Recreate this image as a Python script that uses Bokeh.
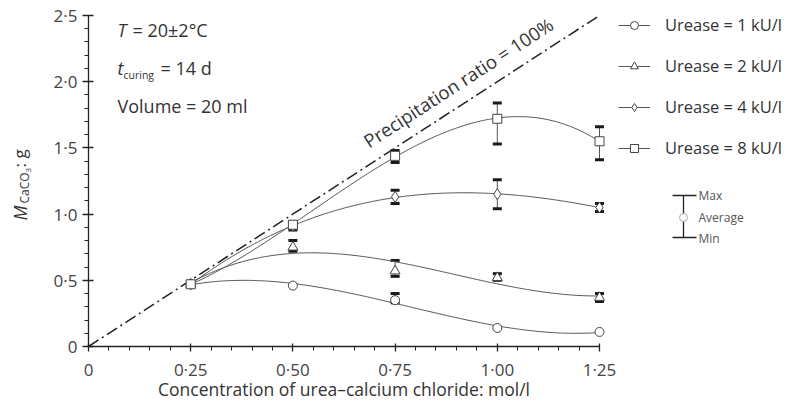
import math
import numpy as np
from bokeh.plotting import figure
from bokeh.models import (ColumnDataSource, Whisker, TeeHead, Label, Legend, LegendItem,
                          FixedTicker, Range1d)
from bokeh.embed import file_html
from bokeh.resources import INLINE

# ---------------- data ----------------
conc = [0.25, 0.50, 0.75, 1.00, 1.25]
series_labels = ["Urease = 1 kU/l", "Urease = 2 kU/l", "Urease = 4 kU/l", "Urease = 8 kU/l"]
series_markers = ["circle", "triangle", "diamond", "square"]
nan = float("nan")

avg_1 = [0.47, 0.46, 0.35, 0.14, 0.11]
max_1 = [nan, nan, 0.40, nan, nan]
min_1 = [nan, nan, 0.33, nan, nan]

avg_2 = [0.47, 0.75, 0.57, 0.52, 0.37]
max_2 = [nan, 0.80, 0.65, 0.55, 0.40]
min_2 = [nan, 0.72, 0.53, 0.50, 0.34]

avg_4 = [0.47, 0.91, 1.13, 1.15, 1.05]
max_4 = [nan, 0.93, 1.18, 1.26, 1.08]
min_4 = [nan, 0.88, 1.08, 1.04, 1.02]

avg_8 = [0.47, 0.92, 1.44, 1.72, 1.55]
max_8 = [nan, 0.94, 1.48, 1.84, 1.66]
min_8 = [nan, 0.89, 1.39, 1.53, 1.41]

# 100 % precipitation: 20 ml of solution, CaCO3 molar mass 100 g/mol
volume_l = 0.020
molar_mass = 100.0
ratio_conc = [0.0, 1.25]

x_ticks = [0, 0.25, 0.5, 0.75, 1.0, 1.25]
x_tick_labels = ["0", "0·25", "0·50", "0·75", "1·00", "1·25"]
y_ticks = [0, 0.5, 1.0, 1.5, 2.0, 2.5]
y_tick_labels = ["0", "0·5", "1·0", "1·5", "2·0", "2·5"]

# ---------------- layout ----------------
W, H = 793, 412
X0, Y0 = 88, 346            # page pixel of the data origin
SX = (599 - X0) / 1.25      # px per x unit
SY = (Y0 - 15) / 2.5        # px per y unit
FONT = "Open Sans"
TXT = "#333333"
FIX = 6                     # baseline correction (px)

def sxp(px):                # page x -> frame screen x
    return px

def syp(py):                # page y -> frame screen y (from bottom)
    return H - py

def dxp(px):                # page x -> data x
    return (px - X0) / SX

def dyp(py):                # page y -> data y
    return (Y0 - py) / SY

p = figure(width=W, height=H, output_backend="svg", toolbar_location=None,
           x_range=Range1d(-X0 / SX, (W - X0) / SX), y_range=Range1d(-(H - Y0) / SY, Y0 / SY),
           min_border=0)
p.outline_line_color = None
p.xgrid.visible = False
p.ygrid.visible = False
p.background_fill_color = "white"
p.border_fill_color = "white"

# axes (kept in their side panels, drawn at the data origin)
for ax in (p.xaxis[0], p.yaxis[0]):
    ax.fixed_location = 0
    ax.axis_line_color = "#222222"
    ax.axis_line_width = 1.3
    ax.major_tick_line_color = "#222222"
    ax.minor_tick_line_color = "#222222"
    ax.major_tick_line_width = 1.3
    ax.major_label_text_font = FONT
    ax.major_label_text_font_size = "17px"
    ax.major_label_text_color = "#444444"
    ax.minor_tick_in = 0
    ax.minor_tick_out = 4

p.xaxis.ticker = FixedTicker(ticks=x_ticks, minor_ticks=[round(0.05 * i, 2) for i in range(26)])
p.xaxis.major_label_overrides = dict(zip(x_ticks, x_tick_labels))
p.xaxis.bounds = (0, 1.25)
p.xaxis.major_tick_in = 3
p.xaxis.major_tick_out = 5
p.xaxis.major_label_standoff = 6

p.yaxis.ticker = FixedTicker(ticks=y_ticks, minor_ticks=[round(0.1 * i, 1) for i in range(26)])
p.yaxis.major_label_overrides = dict(zip(y_ticks, y_tick_labels))
p.yaxis.bounds = (0, 2.5)
p.yaxis.major_tick_in = 5
p.yaxis.major_tick_out = 6
p.yaxis.major_label_standoff = 5

# precipitation ratio line
ratio_mass = [c * volume_l * molar_mass for c in ratio_conc]
p.line(ratio_conc, ratio_mass, line_color="#222222", line_width=1.5, line_dash="12 4 2 4")

# series
xs_fine = np.linspace(conc[0], conc[-1], 200)
legend_items = []
all_series = [(avg_1, max_1, min_1), (avg_2, max_2, min_2), (avg_4, max_4, min_4), (avg_8, max_8, min_8)]
marker_sizes = {"circle": 9, "triangle": 10, "diamond": 11, "square": 9}
for (avg, mx, mn), label, marker in zip(all_series, series_labels, series_markers):
    coef = np.polyfit(conc, avg, 3)
    lr = p.line(xs_fine, np.polyval(coef, xs_fine), line_color="#555555", line_width=1)
    idx = [i for i in range(len(conc)) if not math.isnan(mx[i])]
    src = ColumnDataSource(dict(x=[conc[i] for i in idx], hi=[mx[i] for i in idx], lo=[mn[i] for i in idx]))
    wk = Whisker(source=src, base="x", upper="hi", lower="lo", dimension="height",
                 line_color="#555555", line_width=1,
                 upper_head=TeeHead(size=9, line_width=3, line_color="#1a1a1a"),
                 lower_head=TeeHead(size=9, line_width=3, line_color="#1a1a1a"))
    p.add_layout(wk)
    sr = p.scatter(conc, avg, marker=marker, size=marker_sizes[marker], fill_color="white",
                   line_color="#444444", line_width=1)
    legend_items.append(LegendItem(label=label, renderers=[lr, sr]))

legend = Legend(items=legend_items, location=(sxp(618), syp(17 + 142)),
                glyph_width=32, glyph_height=20, label_height=20, spacing=18,
                label_standoff=15, padding=0, margin=0,
                label_text_font=FONT, label_text_font_size="16.5px", label_text_color=TXT,
                border_line_color=None, background_fill_alpha=0)
p.add_layout(legend)

# error bar key
p.segment([dxp(683)], [dyp(195)], [dxp(683)], [dyp(237)], line_color="#222222", line_width=1.3)
p.segment([dxp(672), dxp(672)], [dyp(195), dyp(237)], [dxp(696), dxp(696)], [dyp(195), dyp(237)],
          line_color="#222222", line_width=1.3)
p.scatter([dxp(683)], [dyp(217)], marker="circle", size=8, fill_color="white",
          line_color="#aaaaaa", line_width=1)
for txt, py in (("Max", 195), ("Average", 217), ("Min", 238)):
    p.add_layout(Label(x=sxp(698), y=syp(py), x_units="screen", y_units="screen", text=txt,
                       text_font=FONT, text_font_size="12px", text_color="#555555",
                       text_baseline="middle", text_align="left"))

def add_label(txt, px, py, size="18px", style="normal", angle=0.0, align="left", color=TXT):
    # px, py: page position of the baseline start
    if angle:
        px = px - FIX
    else:
        py = py - FIX
    p.add_layout(Label(x=sxp(px), y=syp(py), x_units="screen", y_units="screen", text=txt,
                       text_font=FONT, text_font_size=size, text_font_style=style,
                       text_color=color, text_baseline="alphabetic", text_align=align,
                       angle=angle))

# condition notes
add_label("T", 117, 35, style="italic")
add_label("= 20±2°C", 132, 35)
add_label("t", 117, 73, style="italic")
add_label("curing", 123, 80, size="10.5px")
add_label("= 14 d", 160, 73)
add_label("Volume = 20 ml", 117, 111)

# y axis title (rotated, with subscripts)
add_label("M", 25, 220, size="18px", style="italic", angle=math.pi / 2)
add_label("CaCO", 30, 203, size="12px", angle=math.pi / 2)
add_label("3", 34, 172, size="8px", angle=math.pi / 2)
add_label(": g", 25, 167, size="17px", angle=math.pi / 2)

# x axis title
p.add_layout(Label(x=0.625, y=syp(394 - FIX), x_units="data", y_units="screen",
                   text="Concentration of urea–calcium chloride: mol/l",
                   text_font=FONT, text_font_size="17.5px", text_color=TXT,
                   text_baseline="alphabetic", text_align="center"))

# precipitation ratio label
theta = math.atan(volume_l * molar_mass * SY / SX)
p.add_layout(Label(x=dxp(368 - FIX * math.sin(theta)), y=dyp(147 - FIX * math.cos(theta)),
                   text="Precipitation ratio = 100%",
                   text_font=FONT, text_font_size="18.5px", text_color=TXT,
                   text_baseline="alphabetic", text_align="left", angle=theta))

open("out.html", "w").write(file_html(p, INLINE))
